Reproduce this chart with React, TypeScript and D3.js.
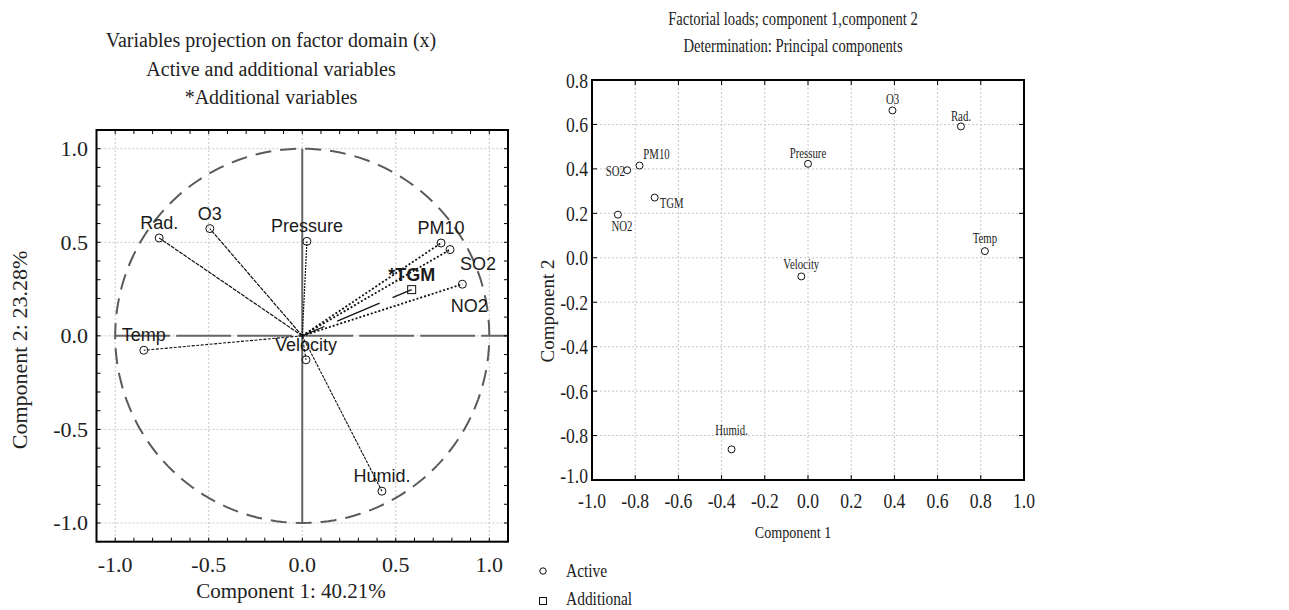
import * as d3 from "d3";

// variables in the same order for both panels
const names = ["Rad.", "O3", "Pressure", "PM10", "SO2", "NO2", "TGM", "Temp", "Velocity", "Humid."];
// left panel: projection on factor plane
const projX = [-0.765, -0.494, 0.025, 0.742, 0.79, 0.856, 0.585, -0.847, 0.02, 0.426];
const projY = [0.523, 0.573, 0.505, 0.496, 0.461, 0.276, 0.247, -0.077, -0.128, -0.83];
const additional = ["TGM"];
// right panel: factorial loads
const loadX = [0.708, 0.391, 0.0, -0.78, -0.837, -0.88, -0.71, 0.819, -0.031, -0.354];
const loadY = [0.591, 0.663, 0.423, 0.415, 0.394, 0.194, 0.271, 0.03, -0.084, -0.862];

const leftTicks = [-1, -0.5, 0, 0.5, 1];
const rightXTicks = [-1, -0.8, -0.6, -0.4, -0.2, 0, 0.2, 0.4, 0.6, 0.8, 1];
const rightYTicks = [-1, -0.8, -0.6, -0.4, -0.2, 0, 0.2, 0.4, 0.6, 0.8];

const leftTitle = ["Variables projection on factor domain (x)", "Active and additional variables", "*Additional variables"];
const rightTitle = ["Factorial loads; component 1,component 2", "Determination: Principal components"];
const legendItems = ["Active", "Additional"];

const SERIF = "'Liberation Serif', 'Times New Roman', serif";
const SANS = "'Liberation Sans', Arial, sans-serif";
const INK = "#222";

// plain hyphen for negatives, like the original
const fmt = (v) => d3.format(".1f")(v).replace("\u2212", "-");

// line look per vector in the left panel
const vecStyle = {
  "Rad.": { dash: "4,1", w: 1.2 },
  O3: { dash: "4,1", w: 1.2 },
  Pressure: { dash: "2,1", w: 1.2 },
  PM10: { dash: "2,2", w: 1.8 },
  SO2: { dash: "2,2", w: 1.8 },
  NO2: { dash: "2,2", w: 1.8 },
  TGM: { dash: "46,14", w: 1.3, off: 22 },
  Temp: { dash: "3,1.5", w: 1.1 },
  Velocity: { dash: "3,1.5", w: 1.1 },
  "Humid.": { dash: "3,1", w: 1.1 },
};
// label offsets (px) relative to the point, default is centered above
const leftLabelOff = { SO2: [28, 20], NO2: [7, 28] };
const rightLabelOff = {
  O3: [0, -6], "Rad.": [0, -5], Pressure: [0, -6], PM10: [17, -7], SO2: [-12, 6],
  TGM: [17, 10], NO2: [4, 16], Temp: [0, -8], Velocity: [0, -7], "Humid.": [0, -14],
};

function CText({ x, y, sx = 0.78, size, anchor = "middle", children }) {
  return (
    <text transform={`translate(${x},${y}) scale(${sx},1)`} textAnchor={anchor} fontSize={size} fontFamily={SERIF} fill={INK}>
      {children}
    </text>
  );
}

function LeftPanel() {
  const x = d3.scaleLinear().domain([-1.1, 1.1]).range([96.5, 508]);
  const y = d3.scaleLinear().domain([-1.1, 1.1]).range([541.7, 130]);
  const minor = x.ticks(22);
  const circle = d3.line().curve(d3.curveLinearClosed)(
    d3.range(0, 360, 2).map((a) => [x(Math.cos((a * Math.PI) / 180)), y(Math.sin((a * Math.PI) / 180))])
  );
  const pts = names.map((n, i) => ({ name: n, px: x(projX[i]), py: y(projY[i]), add: additional.includes(n) }));
  return (
    <g>
      {leftTitle.map((t, i) => (
        <text key={t} x={271} y={47 + i * 28.5} textAnchor="middle" fontSize={20} fontFamily={SERIF} fill={INK}>{t}</text>
      ))}
      {leftTicks.map((t) => (
        <g key={t}>
          <line x1={x(t)} x2={x(t)} y1={y(1.1)} y2={y(-1.1)} stroke="#c8c8c8" strokeDasharray="2,2" />
          <line y1={y(t)} y2={y(t)} x1={x(-1.1)} x2={x(1.1)} stroke="#c8c8c8" strokeDasharray="2,2" />
        </g>
      ))}
      <path d={circle} fill="none" stroke="#5a5a5a" strokeWidth={2} strokeDasharray="16,9" />
      <line x1={x(-1)} x2={x(1.1)} y1={y(0)} y2={y(0)} stroke="#666" strokeWidth={2} strokeDasharray="55,6" />
      <line x1={x(0)} x2={x(0)} y1={y(1)} y2={y(-1)} stroke="#666" strokeWidth={2} />
      {pts.map((p) => {
        const s = vecStyle[p.name];
        return (
          <line key={p.name} x1={x(0)} y1={y(0)} x2={p.px} y2={p.py} stroke="#111" strokeWidth={s.w}
            strokeDasharray={s.dash} strokeDashoffset={s.off || 0} />
        );
      })}
      {pts.map((p) =>
        p.add ? (
          <rect key={p.name} x={p.px - 4} y={p.py - 4} width={8} height={8} fill="none" stroke="#111" strokeWidth={1} />
        ) : (
          <circle key={p.name} cx={p.px} cy={p.py} r={4} fill="none" stroke="#111" strokeWidth={1} />
        )
      )}
      {pts.map((p) => {
        const o = leftLabelOff[p.name] || [0, -9];
        return (
          <text key={p.name} x={p.px + o[0]} y={p.py + o[1]} textAnchor="middle" fontSize={18} fontFamily={SANS}
            fontWeight={p.add ? "bold" : "normal"} fill="#1a1a1a">
            {p.add ? "*" + p.name : p.name}
          </text>
        );
      })}
      <rect x={x(-1.1)} y={y(1.1)} width={x(1.1) - x(-1.1)} height={y(-1.1) - y(1.1)} fill="none" stroke="#000" strokeWidth={2} />
      {minor.map((t) => (
        <g key={t} stroke="#000" strokeWidth={1}>
          <line x1={x(t)} x2={x(t)} y1={y(-1.1)} y2={y(-1.1) - 4} />
          <line x1={x(t)} x2={x(t)} y1={y(1.1)} y2={y(1.1) + 4} />
          <line y1={y(t)} y2={y(t)} x1={x(-1.1)} x2={x(-1.1) + 4} />
          <line y1={y(t)} y2={y(t)} x1={x(1.1)} x2={x(1.1) - 4} />
        </g>
      ))}
      {leftTicks.map((t) => (
        <g key={t} fontSize={22} fontFamily={SERIF} fill={INK}>
          <text x={x(t)} y={572} textAnchor="middle">{fmt(t)}</text>
          <text x={88} y={y(t) + 7.5} textAnchor="end">{fmt(t)}</text>
        </g>
      ))}
      <text x={291} y={598} textAnchor="middle" fontSize={21} fontFamily={SERIF} fill={INK}>Component 1: 40.21%</text>
      <text transform="translate(27,350) rotate(-90)" textAnchor="middle" fontSize={22} fontFamily={SERIF} fill={INK}>
        Component 2: 23.28%
      </text>
    </g>
  );
}

function RightPanel() {
  const x = d3.scaleLinear().domain([-1, 1]).range([592, 1024]);
  const y = d3.scaleLinear().domain([-1, 0.8]).range([480, 80]);
  const pts = names.map((n, i) => ({ name: n, px: x(loadX[i]), py: y(loadY[i]) }));
  return (
    <g>
      {rightTitle.map((t, i) => (
        <CText key={t} x={793} y={25 + i * 27} size={19} sx={0.77}>{t}</CText>
      ))}
      {rightXTicks.map((t) => (
        <line key={t} x1={x(t)} x2={x(t)} y1={y(0.8)} y2={y(-1)} stroke="#c8c8c8" strokeDasharray="2,2" />
      ))}
      {rightYTicks.map((t) => (
        <line key={t} y1={y(t)} y2={y(t)} x1={x(-1)} x2={x(1)} stroke="#c8c8c8" strokeDasharray="2,2" />
      ))}
      <rect x={x(-1)} y={y(0.8)} width={x(1) - x(-1)} height={y(-1) - y(0.8)} fill="none" stroke="#000" strokeWidth={2} />
      {rightXTicks.map((t) => (
        <g key={t} stroke="#000">
          <line x1={x(t)} x2={x(t)} y1={y(-1)} y2={y(-1) - 5} />
          <line x1={x(t)} x2={x(t)} y1={y(0.8)} y2={y(0.8) + 5} />
        </g>
      ))}
      {rightYTicks.map((t) => (
        <g key={t} stroke="#000">
          <line y1={y(t)} y2={y(t)} x1={x(-1)} x2={x(-1) + 5} />
          <line y1={y(t)} y2={y(t)} x1={x(1)} x2={x(1) - 5} />
        </g>
      ))}
      {rightXTicks.map((t) => (
        <CText key={t} x={x(t)} y={508} size={22} sx={0.8}>{fmt(t)}</CText>
      ))}
      {rightYTicks.map((t) => (
        <CText key={t} x={588} y={y(t) + (t === -1 ? 3 : 7.5)} size={22} sx={0.8} anchor="end">{fmt(t)}</CText>
      ))}
      <CText x={793} y={538} size={17} sx={0.83}>Component 1</CText>
      <text transform="translate(554,311) rotate(-90)" textAnchor="middle" fontSize={19} fontFamily={SERIF} fill={INK}>
        Component 2
      </text>
      {pts.map((p) => (
        <circle key={p.name} cx={p.px} cy={p.py} r={3.5} fill="#fff" stroke="#111" strokeWidth={1} />
      ))}
      {pts.map((p) => {
        const o = rightLabelOff[p.name] || [0, -6];
        return (
          <CText key={p.name} x={p.px + o[0]} y={p.py + o[1]} size={14} sx={0.77}>{p.name}</CText>
        );
      })}
      {/* legend */}
      <circle cx={543} cy={571} r={3.2} fill="#fff" stroke="#111" />
      <CText x={566} y={577} size={18} sx={0.86} anchor="start">{legendItems[0]}</CText>
      <rect x={539.5} y={597.5} width={7} height={7} fill="#fff" stroke="#111" />
      <CText x={566} y={605} size={18} sx={0.86} anchor="start">{legendItems[1]}</CText>
    </g>
  );
}

export default function App() {
  return (
    <svg width={1289} height={610} style={{ position: "absolute", left: 0, top: 0, background: "#fff" }}>
      <LeftPanel />
      <RightPanel />
    </svg>
  );
}
